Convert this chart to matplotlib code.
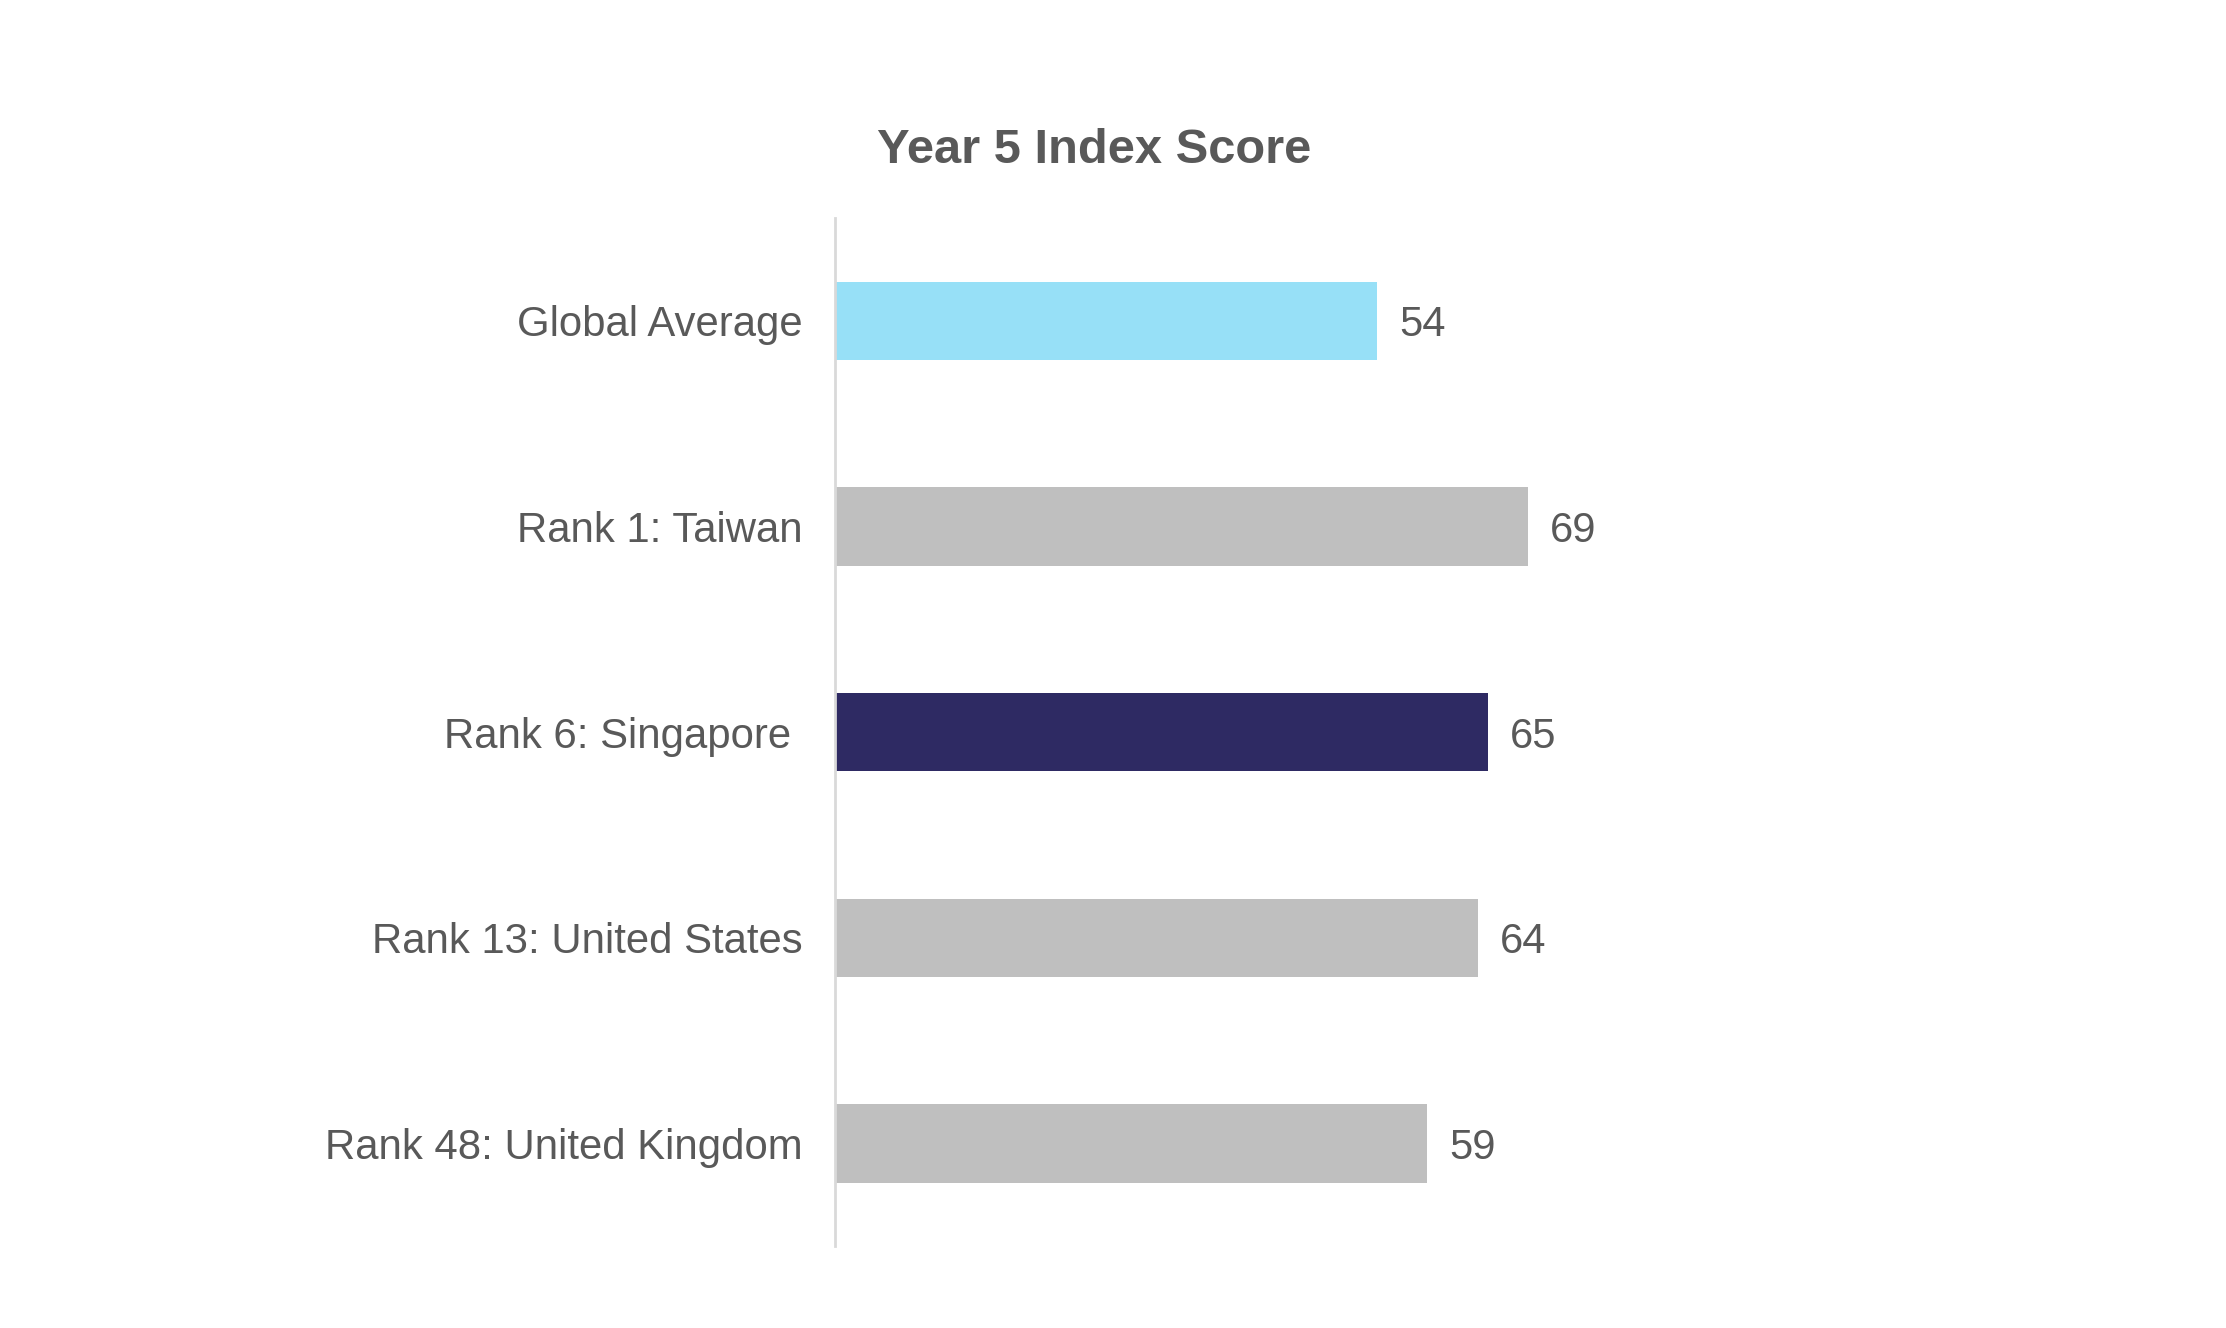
import matplotlib
matplotlib.use("Agg")
import matplotlib.pyplot as plt

categories = ["Global Average", "Rank 1: Taiwan", "Rank 6: Singapore ",
              "Rank 13: United States", "Rank 48: United Kingdom"]
scores = [54, 69, 65, 64, 59]
bar_colors = ["#97E0F7", "#BFBFBF", "#2E2A63", "#BFBFBF", "#BFBFBF"]
title = "Year 5 Index Score"

plt.rcParams['font.family'] = ['Liberation Sans', 'DejaVu Sans']
text_color = "#595959"

fig = plt.figure(figsize=(11.13, 6.64), dpi=200)
ax = fig.add_axes([0.375, 0.0615, 0.4987, 0.7743])

ypos = list(range(len(categories)))
ax.barh(ypos, scores, height=0.38, color=bar_colors)
ax.set_ylim(len(categories) - 0.5, -0.5)
ax.set_xlim(0, 110.5)

for y, v in zip(ypos, scores):
    ax.annotate(str(v), xy=(v, y), xytext=(8, 0), textcoords="offset points",
                va="center_baseline", ha="left", fontsize=15, color=text_color)

ax.set_yticks(ypos)
ax.set_yticklabels(categories, fontsize=15.1, color=text_color)
ax.tick_params(axis='y', length=0, pad=11.4)
ax.set_xticks([])
for s in ["top", "right", "bottom"]:
    ax.spines[s].set_visible(False)
ax.spines["left"].set_color("#D9D9D9")
ax.spines["left"].set_linewidth(1.0)

fig.text(0.4915, 0.887, title, ha="center", va="center", fontsize=17.6,
         fontweight="bold", color=text_color)

fig.savefig("out.png", dpi=200, facecolor="white")
